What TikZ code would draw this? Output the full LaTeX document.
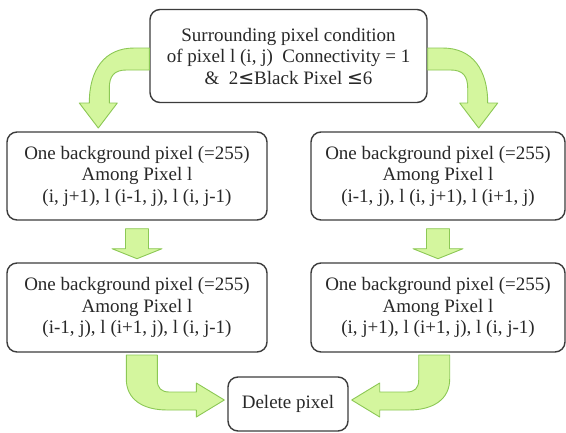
\documentclass[tikz,border=0pt]{standalone}
\usepackage{fontspec}
\setmainfont{Liberation Serif}
\newfontfamily\symfont{DejaVu Sans}
\usetikzlibrary{arrows.meta}
\definecolor{arrowfill}{RGB}{212,246,158}
\definecolor{arrowline}{RGB}{140,200,85}
\definecolor{boxline}{RGB}{60,60,60}
\definecolor{boxtext}{RGB}{40,40,40}
\tikzset{
  pixbox/.style={draw=boxline,line width=1.4pt,rounded corners=10pt,fill=white,
    align=center,inner sep=0pt,text=boxtext,
    font=\fontsize{19}{21.5}\selectfont},
  greenarrow/.style={fill=arrowfill,draw=arrowline,line width=0.9pt,line join=round}
}
% bent arrow leaving the top box sideways and pointing down
\newcommand{\bendtop}[2]{%
  \begin{scope}[shift={(#1)},xscale=#2]
    \draw[greenarrow] (0,-8) -- (-15,-8) .. controls (-45,-8) and (-60,14) .. (-60,47)
      -- (-70,47) -- (-51,72) -- (-32,47) -- (-40,47) -- (-40,32)
      .. controls (-40,20) and (-35,14) .. (-23,14) -- (0,14) -- cycle;
  \end{scope}}
% bent arrow coming down and pointing sideways into the delete box
\newcommand{\benddel}[2]{%
  \begin{scope}[shift={(#1)},xscale=#2]
    \draw[greenarrow] (-101,-49) -- (-101,-25) .. controls (-101,-5) and (-85,6) .. (-60,6)
      -- (-31,6) -- (-31,13) -- (-3,-4) -- (-31,-21) -- (-31,-12) -- (-58,-12)
      .. controls (-66,-12) and (-70,-16) .. (-70,-24) -- (-70,-49) -- cycle;
  \end{scope}}
% short straight arrow below a box
\newcommand{\blockdown}[1]{%
  \begin{scope}[shift={(#1)}]
    \draw[greenarrow] (-11.5,8) -- (11.5,8) -- (11.5,28) -- (25,28) -- (0,38)
      -- (-25,28) -- (-11.5,28) -- cycle;
  \end{scope}}

\begin{document}
\begin{tikzpicture}[x=1pt,y=-1pt]
  \fill[white] (0,0) rectangle (566,432);
  \useasboundingbox (0,0) rectangle (566,432);

  \node[pixbox,minimum width=277pt,minimum height=93pt] (top) at (288.5,56)
    {Surrounding pixel condition\\of pixel l (i, j)~~Connectivity = 1\\\&~~2{\symfont ≤}Black Pixel {\symfont ≤}6};

  \node[pixbox,minimum width=260pt,minimum height=88pt] (midL) at (137,176)
    {One background pixel (=255)\\Among Pixel l\\(i, j+1), l (i-1, j), l (i, j-1)};
  \node[pixbox,minimum width=254pt,minimum height=88pt] (midR) at (438,176)
    {One background pixel (=255)\\Among Pixel l\\(i-1, j), l (i, j+1), l (i+1, j)};

  \node[pixbox,minimum width=260pt,minimum height=89pt] (botL) at (137,307.5)
    {One background pixel (=255)\\Among Pixel l\\(i-1, j), l (i+1, j), l (i, j-1)};
  \node[pixbox,minimum width=254pt,minimum height=89pt] (botR) at (438,307.5)
    {One background pixel (=255)\\Among Pixel l\\(i, j+1), l (i+1, j), l (i, j-1)};

  \node[pixbox,minimum width=120pt,minimum height=54pt] (del) at (288,404) {Delete pixel};

  \bendtop{top.west}{1}
  \bendtop{top.east}{-1}
  \blockdown{midL.south}
  \blockdown{midR.south}
  \benddel{del.west}{1}
  \benddel{del.east}{-1}
\end{tikzpicture}
\end{document}
